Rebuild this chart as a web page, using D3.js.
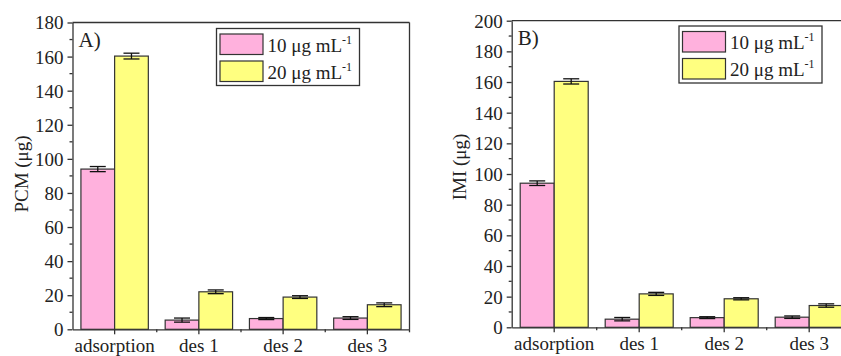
<!DOCTYPE html>
<html>
<head>
<meta charset="utf-8">
<script src="https://cdn.jsdelivr.net/npm/d3@7"></script>
<style>
  body { margin: 0; background: #fff; }
  svg text { font-family: "Liberation Serif", "Times New Roman", serif; fill: #222; }
</style>
</head>
<body>
<svg id="chart" width="841" height="356" font-family="Liberation Serif"></svg>
<script>
// categories along the x axis
var categories = ["adsorption", "des 1", "des 2", "des 3"];
var seriesNames = ["10 \u03bcg mL", "20 \u03bcg mL"];

// panel A: PCM
var pcm10 = [94, 5.4, 6.3, 6.6];
var pcm10Err = [1.5, 1.2, 0.6, 0.8];
var pcm20 = [160.3, 22, 18.9, 14.4];
var pcm20Err = [1.7, 1.1, 0.8, 1.1];

// panel B: IMI
var imi10 = [94, 5.3, 6.3, 6.6];
var imi10Err = [1.5, 1.1, 0.6, 0.8];
var imi20 = [160.4, 21.8, 18.6, 14.2];
var imi20Err = [1.7, 1.0, 0.7, 1.1];

var ticksA = d3.range(0, 181, 20);
var ticksB = d3.range(0, 201, 20);

var colors = ["#ffb1dd", "#ffff80"];
var edge = "#333";
var fs = 19;

var svg = d3.select("#chart");

function drawPanel(p) {
    var g = svg.append("g");

    var x = d3.scaleBand()
        .domain(categories)
        .range([p.left, p.right])
        .padding(0);

    var y = d3.scaleLinear()
        .domain([0, p.ymax])
        .range([p.bottom, p.top]);

    var barW = x.bandwidth() * 0.4;
    var series = [
        { vals: p.s1, errs: p.e1, color: colors[0] },
        { vals: p.s2, errs: p.e2, color: colors[1] }
    ];

    // bars
    series.forEach(function (s, si) {
        g.selectAll(null)
            .data(categories)
            .enter()
            .append("rect")
            .attr("x", (c) => x(c) + x.bandwidth() / 2 - barW + si * barW)
            .attr("y", (c, i) => y(s.vals[i]))
            .attr("width", barW)
            .attr("height", (c, i) => y(0) - y(s.vals[i]))
            .attr("fill", s.color)
            .attr("stroke", edge)
            .attr("stroke-width", 1.2);

        // error bars
        var eb = g.selectAll(null)
            .data(categories)
            .enter()
            .append("g")
            .attr("stroke", "#111")
            .attr("stroke-width", 1.3);
        var cx = (c) => x(c) + x.bandwidth() / 2 - barW / 2 + si * barW;
        eb.append("line")
            .attr("x1", cx).attr("x2", cx)
            .attr("y1", (c, i) => y(s.vals[i] - s.errs[i]))
            .attr("y2", (c, i) => y(s.vals[i] + s.errs[i]));
        [-1, 1].forEach(function (sign) {
            eb.append("line")
                .attr("x1", (c) => cx(c) - 8).attr("x2", (c) => cx(c) + 8)
                .attr("y1", (c, i) => y(s.vals[i] + sign * s.errs[i]))
                .attr("y2", (c, i) => y(s.vals[i] + sign * s.errs[i]));
        });
    });

    // y axis with minor ticks
    var yAxis = d3.axisLeft(y).tickValues(p.ticks).tickSize(5).tickPadding(4).tickSizeOuter(0);
    var ya = g.append("g").attr("transform", `translate(${p.left},0)`).call(yAxis);
    ya.selectAll("text").attr("dy", "0.34em");
    var minor = p.ticks.slice(0, -1).map((t, i) => (t + p.ticks[i + 1]) / 2);
    ya.selectAll(".minor").data(minor).enter().append("line")
        .attr("x1", 0).attr("x2", -3)
        .attr("y1", (d) => y(d)).attr("y2", (d) => y(d));

    // x axis
    var xAxis = d3.axisBottom(x).tickSize(5).tickPadding(4).tickSizeOuter(0);
    var xa = g.append("g").attr("transform", `translate(0,${p.bottom})`).call(xAxis);
    xa.selectAll("text").attr("dy", "0.71em");
    xa.selectAll(".minor").data(categories.slice(1).concat(["end"])).enter().append("line")
        .attr("x1", (c, i) => p.left + (i + 1) * x.bandwidth())
        .attr("x2", (c, i) => p.left + (i + 1) * x.bandwidth())
        .attr("y1", 0).attr("y2", 3);

    [ya, xa].forEach(function (a) {
        a.attr("font-family", null).attr("font-size", null);
        a.selectAll("path, line").attr("stroke", edge).attr("stroke-width", 1.3);
        a.selectAll("text").style("font-size", fs + "px").attr("fill", "#222");
    });

    // frame top / right
    g.append("line").attr("x1", p.left).attr("x2", p.right)
        .attr("y1", p.top).attr("y2", p.top)
        .attr("stroke", edge).attr("stroke-width", 1.3);
    g.append("line").attr("x1", p.right).attr("x2", p.right)
        .attr("y1", p.top).attr("y2", p.bottom)
        .attr("stroke", edge).attr("stroke-width", 1.3);

    // panel letter
    g.append("text").attr("x", p.left + 6).attr("y", p.top + 24)
        .style("font-size", "21px").text(p.letter);

    // y label
    g.append("text")
        .attr("transform", `translate(${p.labelX},${p.labelY}) rotate(-90)`)
        .attr("text-anchor", "middle")
        .style("font-size", "19px")
        .text(p.label);

    // legend
    var lg = g.append("g").attr("transform", `translate(${p.legX},${p.legY})`);
    lg.append("rect").attr("width", 143).attr("height", 57)
        .attr("fill", "#fff").attr("stroke", edge).attr("stroke-width", 1.3);
    seriesNames.forEach(function (name, i) {
        lg.append("rect").attr("x", 3.5).attr("y", 5.5 + i * 27)
            .attr("width", 43).attr("height", 20.5)
            .attr("fill", colors[i]).attr("stroke", edge).attr("stroke-width", 1.2);
        var t = lg.append("text").attr("x", 51).attr("y", 23 + i * 27)
            .style("font-size", fs + "px");
        t.append("tspan").text(name);
        t.append("tspan").attr("dy", -8).style("font-size", "12px").text("-1");
    });
}

drawPanel({
    left: 72.5, right: 409.5, top: 22.5, bottom: 329.3, ymax: 180,
    ticks: ticksA, s1: pcm10, e1: pcm10Err, s2: pcm20, e2: pcm20Err,
    letter: "A)", label: "PCM (\u03bcg)", labelX: 28, labelY: 174,
    legX: 216.5, legY: 28.5
});

drawPanel({
    left: 511.7, right: 851.7, top: 20.7, bottom: 327.3, ymax: 200,
    ticks: ticksB, s1: imi10, e1: imi10Err, s2: imi20, e2: imi20Err,
    letter: "B)", label: "IMI (\u03bcg)", labelX: 466, labelY: 167,
    legX: 679, legY: 26
});
</script>
</body>
</html>
